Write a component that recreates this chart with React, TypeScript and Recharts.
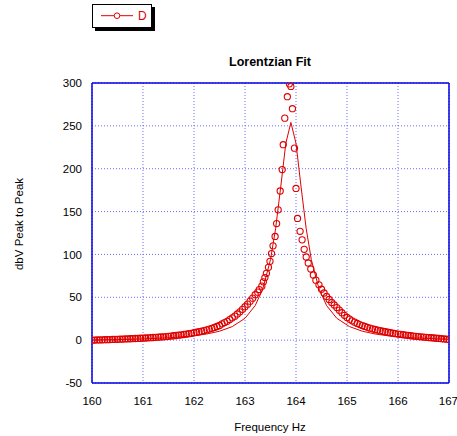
import React from 'react';
import { ComposedChart, Line, Scatter, XAxis, YAxis, CartesianGrid, ReferenceLine } from 'recharts';

// measured points (Hz, dbV p-p)
const freqHz = [
  160.0, 160.05, 160.1, 160.15, 160.2, 160.25, 160.3, 160.35, 160.4, 160.45, 160.5,
  160.55, 160.6, 160.65, 160.7, 160.75, 160.8, 160.85, 160.9, 160.95, 161.0,
  161.05, 161.1, 161.15, 161.2, 161.25, 161.3, 161.35, 161.4, 161.45, 161.5,
  161.55, 161.6, 161.65, 161.7, 161.75, 161.8, 161.85, 161.9, 161.95, 162.0,
  162.05, 162.1, 162.15, 162.2, 162.25, 162.3, 162.35, 162.4, 162.45, 162.5,
  162.55, 162.6, 162.65, 162.7, 162.75, 162.8, 162.85, 162.9, 162.95, 163.0,
  163.05, 163.1, 163.15, 163.2,
  163.25, 163.28, 163.33, 163.36, 163.39, 163.42, 163.46, 163.49, 163.52, 163.55,
  163.59, 163.62, 163.65, 163.69, 163.73, 163.75, 163.78, 163.83, 163.87, 163.9,
  163.93, 163.97, 164.0, 164.03, 164.08, 164.12, 164.16, 164.2, 164.24, 164.29,
  164.34, 164.39, 164.45, 164.5,
  164.55, 164.6, 164.65, 164.7, 164.75, 164.8, 164.85, 164.9, 164.95, 165.0,
  165.05, 165.1, 165.15, 165.2, 165.25, 165.3, 165.35, 165.4, 165.45, 165.5,
  165.55, 165.6, 165.65, 165.7, 165.75, 165.8, 165.85, 165.9, 165.95, 166.0,
  166.05, 166.1, 166.15, 166.2, 166.25, 166.3, 166.35, 166.4, 166.45, 166.5,
  166.55, 166.6, 166.65, 166.7, 166.75, 166.8, 166.85, 166.9, 166.95, 167.0,
];

const dbvPeak = [
  0, 0.1, 0.2, 0.3, 0.4, 0.5, 0.6, 0.7, 0.8, 0.9, 1.0,
  1.1, 1.2, 1.4, 1.5, 1.6, 1.8, 1.9, 2.0, 2.2, 2.4,
  2.5, 2.7, 2.9, 3.1, 3.3, 3.5, 3.7, 3.9, 4.2, 4.5,
  4.8, 5.1, 5.4, 5.8, 6.2, 6.6, 7.0, 7.5, 8.0, 8.6,
  9.2, 9.8, 10.5, 11.2, 12.0, 12.9, 13.8, 14.8, 15.9, 17.1,
  19, 20.5, 22, 24, 26, 28, 30.5, 33, 36, 39,
  42, 45.5, 49, 53,
  56, 59, 63, 68, 73, 78, 85, 92, 101, 110,
  121, 136, 152, 174, 199, 228, 259, 284, 299, 296,
  270, 224, 177, 142, 127, 117, 106, 97, 90, 83,
  76, 70, 64.5, 59.4,
  55, 51, 47.5, 44, 41, 38, 35, 32, 29, 26.5,
  24.5, 22.5, 21, 19.5, 18.2, 17, 16, 15, 14, 13.2,
  12.4, 11.7, 11, 10.4, 9.8, 9.2, 8.6, 8.1, 7.6, 7.1,
  6.7, 6.3, 5.9, 5.5, 5.1, 4.8, 4.5, 4.2, 3.9, 3.6,
  3.3, 3.0, 2.8, 2.5, 2.2, 2.0, 1.7, 1.4, 1.1, 0.8,
];

// lorentzian fit curve
const fitFreqHz = [
  160.0, 160.5, 161.0, 161.5, 162.0, 162.25, 162.5, 162.75, 163.0, 163.2,
  163.35, 163.5, 163.6, 163.7, 163.8, 163.9, 164.0, 164.1, 164.2, 164.3,
  164.45, 164.6, 164.8, 165.05, 165.3, 165.55, 165.8, 166.3, 166.8, 167.0,
];
const fitDbv = [
  0.2, 0.6, 1.4, 2.7, 5.1, 7.2, 10.4, 15.8, 25.5, 40.3,
  60, 94, 130, 178.5, 229.5, 254, 229.5, 178.5, 130, 94,
  60, 40.3, 25.5, 15.8, 10.4, 7.2, 5.1, 2.7, 1.4, 1.0,
];

const xTicks = [160, 161, 162, 163, 164, 165, 166, 167];
const yTicks = [-50, 0, 50, 100, 150, 200, 250, 300];

const RED = '#e00000';
const BLUE = '#0000e6';
const FONT = '"Liberation Sans", Arial, sans-serif';

const measured = freqHz.map((f, i) => ({ f, v: dbvPeak[i] }));
const fitted = fitFreqHz.map((f, i) => ({ f, v: fitDbv[i] }));

const Ring = (props: any) => {
  const { cx, cy } = props;
  if (cx == null || cy == null) return null;
  return <circle cx={cx} cy={cy} r={3.1} fill="none" stroke={RED} strokeWidth={1.1} />;
};

const tickStyle = { fill: '#000', fontSize: 11.5, fontFamily: FONT };

export default function App() {
  return (
    <div
      style={{
        position: 'absolute',
        left: 0,
        top: 0,
        width: 457,
        height: 436,
        background: '#fff',
        fontFamily: FONT,
      }}
    >
      <ComposedChart
        width={457}
        height={436}
        margin={{ top: 83, right: 8, bottom: 0, left: 0 }}
      >
        <CartesianGrid stroke="#6a6aff" strokeDasharray="1 2" />
        <XAxis
          dataKey="f"
          type="number"
          domain={[160, 167]}
          ticks={xTicks}
          allowDataOverflow
          height={53}
          stroke={BLUE}
          strokeWidth={1.5}
          tickLine={false}
          tickMargin={8}
          tick={tickStyle}
        />
        <YAxis
          dataKey="v"
          type="number"
          domain={[-50, 300]}
          ticks={yTicks}
          allowDataOverflow
          width={92}
          stroke={BLUE}
          strokeWidth={1.5}
          tickLine={false}
          tickMargin={4}
          tick={tickStyle}
        />
        <ReferenceLine y={300} stroke={BLUE} strokeWidth={1.5} />
        <ReferenceLine x={167} stroke={BLUE} strokeWidth={1.5} />
        <Line
          data={fitted}
          dataKey="v"
          type="linear"
          stroke={RED}
          strokeWidth={1}
          dot={false}
          activeDot={false}
          isAnimationActive={false}
        />
        <Scatter data={measured} dataKey="v" shape={<Ring />} isAnimationActive={false} />
      </ComposedChart>

      {/* legend */}
      <div
        style={{
          position: 'absolute',
          left: 92,
          top: 4,
          width: 60,
          height: 24,
          boxSizing: 'border-box',
          border: '1px solid #000',
          boxShadow: '3px 3px 0 #000',
          background: '#fff',
        }}
      >
        <svg width={58} height={22} style={{ display: 'block' }}>
          <line x1={8} y1={10.7} x2={40} y2={10.7} stroke={RED} strokeWidth={1} />
          <circle cx={24} cy={10.7} r={2.8} fill="#fff" stroke={RED} strokeWidth={1} />
          <text x={45} y={15} fill={RED} fontSize={12} fontFamily={FONT}>D</text>
        </svg>
      </div>

      <div
        style={{
          position: 'absolute',
          left: 270,
          top: 62,
          transform: 'translate(-50%, -50%)',
          fontWeight: 'bold',
          fontSize: 12.5,
          whiteSpace: 'nowrap',
          color: '#000',
        }}
      >
        Lorentzian Fit
      </div>
      <div
        style={{
          position: 'absolute',
          left: 270,
          top: 427,
          transform: 'translate(-50%, -50%)',
          fontSize: 11.5,
          whiteSpace: 'nowrap',
          color: '#000',
        }}
      >
        Frequency Hz
      </div>
      <div
        style={{
          position: 'absolute',
          left: 19,
          top: 224,
          transform: 'translate(-50%, -50%) rotate(-90deg)',
          fontSize: 11.5,
          whiteSpace: 'nowrap',
          color: '#000',
        }}
      >
        dbV Peak to Peak
      </div>
    </div>
  );
}
